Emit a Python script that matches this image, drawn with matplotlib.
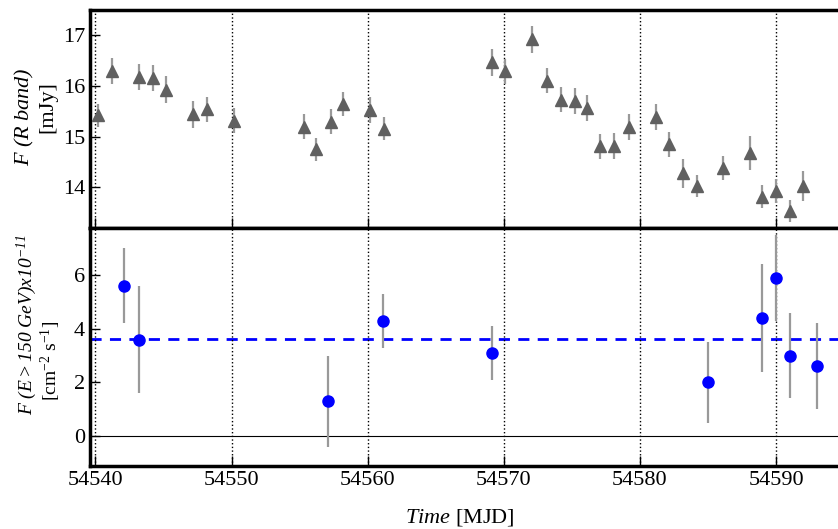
import matplotlib
matplotlib.use("Agg")
import matplotlib.pyplot as plt

# optical R band light curve
r_time = [54540.2, 54541.2, 54543.2, 54544.2, 54545.2, 54547.2, 54548.2, 54550.2,
          54555.3, 54556.2, 54557.3, 54558.2, 54560.2, 54561.2, 54569.1, 54570.1,
          54572.1, 54573.2, 54574.2, 54575.2, 54576.1, 54577.1, 54578.1, 54579.2,
          54581.2, 54582.1, 54583.2, 54584.2, 54586.1, 54588.1, 54589.0, 54590.0,
          54591.0, 54592.0]
r_flux = [15.42, 16.30, 16.18, 16.16, 15.93, 15.44, 15.54, 15.32,
          15.20, 14.75, 15.30, 15.65, 15.53, 15.16, 16.47, 16.29,
          16.92, 16.11, 15.73, 15.70, 15.57, 14.81, 14.82, 15.19,
          15.39, 14.85, 14.28, 14.03, 14.38, 14.68, 13.82, 13.93,
          13.53, 14.03]
r_err = [0.23, 0.26, 0.26, 0.25, 0.26, 0.26, 0.25, 0.25,
         0.24, 0.23, 0.24, 0.24, 0.25, 0.23, 0.27, 0.25,
         0.26, 0.25, 0.25, 0.26, 0.25, 0.24, 0.25, 0.25,
         0.25, 0.25, 0.29, 0.22, 0.24, 0.33, 0.22, 0.23,
         0.22, 0.30]

# VHE gamma-ray flux above 150 GeV
g_time = [54542.1, 54543.2, 54557.1, 54561.1, 54569.1, 54585.0, 54589.0, 54590.0, 54591.0, 54593.0]
g_flux = [5.6, 3.6, 1.3, 4.3, 3.1, 2.0, 4.4, 5.9, 3.0, 2.6]
g_err = [1.4, 2.0, 1.7, 1.0, 1.0, 1.5, 2.0, 1.6, 1.6, 1.6]
g_mean = 3.63

day_lines = [54540, 54550, 54560, 54570, 54580, 54590]

plt.rcParams['font.family'] = ['Liberation Serif', 'DejaVu Serif']
plt.rcParams['mathtext.fontset'] = 'custom'
plt.rcParams['mathtext.rm'] = 'Liberation Serif'
plt.rcParams['mathtext.it'] = 'Liberation Serif:italic'
# sf slot used for fully italic text (digits included)
plt.rcParams['mathtext.sf'] = 'Liberation Serif:italic'
plt.rcParams['font.size'] = 16

fig = plt.figure(figsize=(8.38, 5.29), dpi=100)
ax1 = fig.add_axes([0.1074, 0.569, 0.8926, 0.412])
ax2 = fig.add_axes([0.1074, 0.119, 0.8926, 0.450], sharex=ax1)

xlim = (54539.6, 54594.55)

ax1.errorbar(r_time, r_flux, yerr=r_err, fmt='^', color='#606060', ms=9,
             ecolor='#999999', elinewidth=1.6, capsize=0, zorder=3)
ax1.set_ylim(13.2, 17.5)
ax1.set_yticks([14, 15, 16, 17])
ax1.text(-0.087, 0.509, '$\\mathsf{F\\ (R\\ band)}$', transform=ax1.transAxes,
         rotation=90, ha='center', va='center')
ax1.text(-0.056, 0.555, '[mJy]', transform=ax1.transAxes,
         rotation=90, ha='center', va='center')

ax2.errorbar(g_time, g_flux, yerr=g_err, fmt='o', color='blue', ms=8,
             ecolor='#999999', elinewidth=1.6, capsize=0, zorder=3)
ax2.axhline(g_mean, color='blue', ls='--', lw=2, dashes=(4, 3))
ax2.axhline(0, color='black', lw=0.8)
ax2.set_ylim(-1.12, 7.76)
ax2.set_yticks([0, 2, 4, 6])
ax2.text(-0.084, 0.592, '$\\mathsf{F\\ (E{>}150\\ GeV)x10^{-11}}$', transform=ax2.transAxes,
         rotation=90, ha='center', va='center', fontsize=14)
ax2.text(-0.052, 0.441, '[cm$^{\\mathrm{-2}}$ s$^{\\mathrm{-1}}$]', transform=ax2.transAxes,
         rotation=90, ha='center', va='center', fontsize=14)
ax2.set_xlabel('$\\mathsf{Time}$ [MJD]')
ax2.xaxis.set_label_coords(0.495, -0.172)

for ax in (ax1, ax2):
    for d in day_lines:
        ax.axvline(d, color='black', ls=':', lw=1)
    ax.set_xlim(*xlim)
    ax.set_xticks(day_lines)
    ax.tick_params(direction='in', length=7, width=1, top=False, right=False)
    for s in ('left', 'top', 'bottom'):
        ax.spines[s].set_linewidth(2.5)
    ax.spines['right'].set_visible(False)

ax1.tick_params(labelbottom=False)

fig.savefig('out.png', dpi=100)
